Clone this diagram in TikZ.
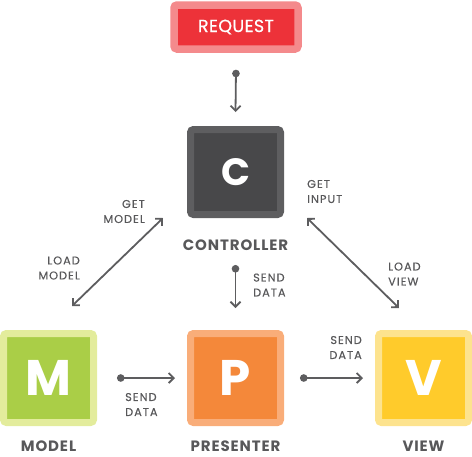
\documentclass[tikz,border=0pt]{standalone}
\usepackage{fontspec}
\setmainfont{Poppins}
\newfontfamily\lblfont[LetterSpace=9,FakeBold=0.3]{Poppins}
\newfontfamily\ttlfont[LetterSpace=6]{Poppins}
\newfontfamily\reqfont[LetterSpace=2,FakeBold=0.6]{Poppins}
\usetikzlibrary{positioning}
\usepgflibrary{arrows.meta}
\definecolor{reqout}{HTML}{F48A8C}
\definecolor{reqin}{HTML}{ED3239}
\definecolor{cout}{HTML}{5E5E60}
\definecolor{cin}{HTML}{48484A}
\definecolor{mout}{HTML}{E3EC9C}
\definecolor{min}{HTML}{AACE47}
\definecolor{pout}{HTML}{F9AD79}
\definecolor{pin}{HTML}{F4883A}
\definecolor{vout}{HTML}{FDE38E}
\definecolor{vin}{HTML}{FFCB2B}
\definecolor{txtgray}{HTML}{58585A}
\definecolor{arrgray}{HTML}{5D5D5F}
\begin{document}
\begin{tikzpicture}[x=1pt,y=-1pt,
    mvpbox/.style 2 args={draw=#1,fill=#2,line width=7pt,rounded corners=3pt,inner sep=0pt,
        minimum width=90pt,minimum height=89pt,text=white,font=\bfseries\fontsize{50}{50}\selectfont},
    ttl/.style={text=txtgray,font=\ttlfont\bfseries\fontsize{15}{15}\selectfont,inner sep=0pt},
    lbl/.style={text=txtgray,font=\lblfont\fontsize{11.3}{15}\selectfont,inner sep=0pt},
    flow/.style={line width=1.8pt,draw=arrgray,{Circle[length=7.5pt]}-{Straight Barb[length=5pt,width=10pt]}},
    twoway/.style={line width=1.8pt,draw=arrgray,{Straight Barb[length=5pt,width=10pt]}-{Straight Barb[length=5pt,width=10pt]}}]
        \useasboundingbox (0,0) rectangle (472,456);
        %请求
            \node [draw=reqout,fill=reqin,line width=7.5pt,rounded corners=3pt,minimum width=124pt,minimum height=44pt,
                text=white,font=\reqfont\fontsize{17.5}{17.5}\selectfont] (req) at (236,27) {REQUEST};
        %方块
            \node [mvpbox={cout}{cin},minimum height=85pt,font=\bfseries\fontsize{38}{38}\selectfont] (ctrl) at (235.5,172) {C};
            \node [mvpbox={mout}{min}] (model) at (48.5,378) {M};
            \node [mvpbox={pout}{pin}] (pres) at (235.5,378) {P};
            \node [mvpbox={vout}{vin}] (view) at (423.5,378) {V};
        %名称
            \node [ttl,below=22pt of ctrl] (ctrlname) {CONTROLLER};
            \node [ttl,below=15pt of model] (modelname) {MODEL};
            \node [ttl,below=15pt of pres] (presname) {PRESENTER};
            \node [ttl,below=15pt of view] (viewname) {VIEW};
        %箭头
            \draw [flow] ([yshift=-47pt]ctrl.south) -- ([yshift=22pt]pres.north);
            \draw [flow] ([yshift=-17pt]req.south) -- ([yshift=14pt]ctrl.north);
            \draw [flow] ([xshift=20pt]model.east) -- ([xshift=-12pt]pres.west);
            \draw [flow] ([xshift=16pt]pres.east) -- ([xshift=-12pt]view.west);
            \draw [twoway] ([xshift=-25pt,yshift=24pt]model.north east) -- ([xshift=-24pt]ctrl.south west);
            \draw [twoway] ([xshift=23pt]ctrl.south east) -- ([xshift=24pt,yshift=22pt]view.north west);
        %标注
            \node [lbl,anchor=east,align=right] (getmodel) at (145,211.5) {GET\\MODEL};
            \node [lbl,anchor=east,align=right] (loadmodel) at (80,268) {LOAD\\MODEL};
            \node [lbl,anchor=west,align=left] (getinput) at (307,191.5) {GET\\INPUT};
            \node [lbl,anchor=west,align=left] (loadview) at (388,274) {LOAD\\VIEW};
            \node [lbl,anchor=west,align=left] (senddown) at (253,285) {SEND\\DATA};
            \node [lbl,anchor=west,align=left] (sendleft) at (125,404.5) {SEND\\DATA};
            \node [lbl,anchor=east,align=right] (sendright) at (362,347.5) {SEND\\DATA};
    \end{tikzpicture}
\end{document}
